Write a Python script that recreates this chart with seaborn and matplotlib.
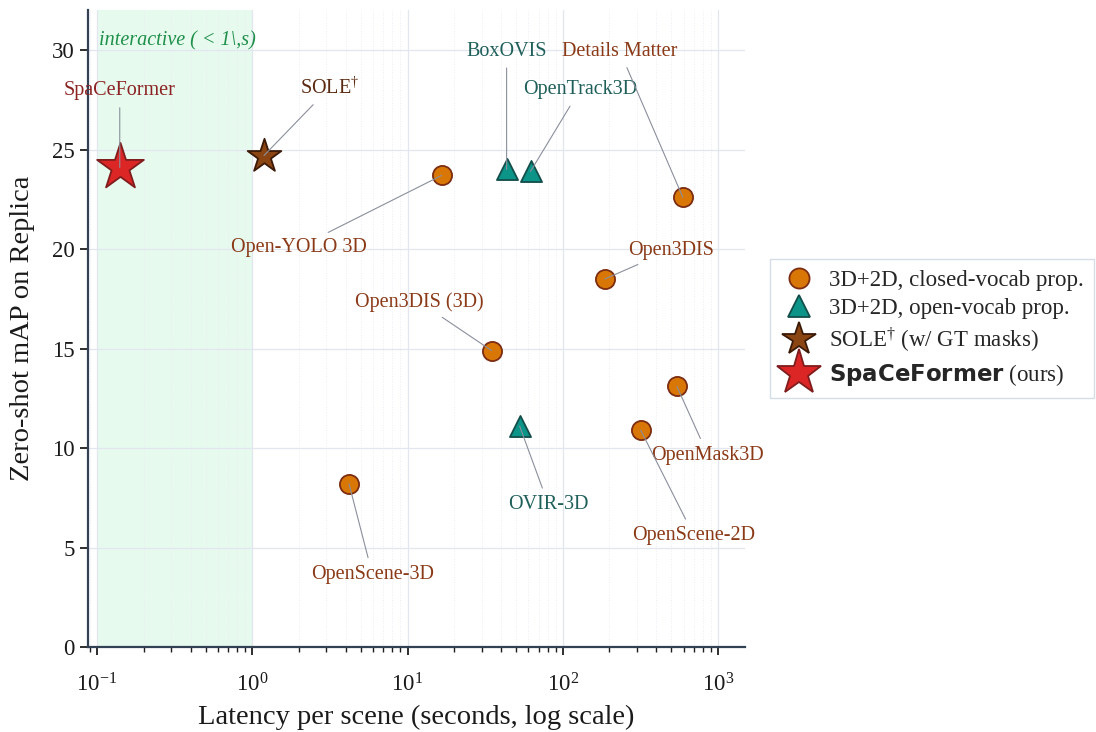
import matplotlib
matplotlib.use("Agg")
import matplotlib.pyplot as plt
from matplotlib.lines import Line2D
from matplotlib.ticker import LogLocator, NullFormatter
import seaborn as sns
import pandas as pd

# ---- data ----
methods = ["SpaCeFormer", "SOLE$^{\\dagger}$", "Open-YOLO 3D", "BoxOVIS", "OpenTrack3D",
           "Details Matter", "Open3DIS", "Open3DIS (3D)", "OpenMask3D", "OpenScene-2D",
           "OVIR-3D", "OpenScene-3D"]
groups = ["ours", "sole", "closed", "open", "open",
          "closed", "closed", "closed", "closed", "closed",
          "open", "closed"]
latency = [0.14, 1.19, 16.6, 43.5, 62.0, 594.0, 187.0, 34.8, 544.0, 318.0, 52.8, 4.2]
mAP = [24.1, 24.7, 23.7, 24.0, 23.9, 22.6, 18.5, 14.9, 13.1, 10.9, 11.1, 8.2]
label_x = [0.14, 3.14, 2.0, 43.5, 129.0, 233.0, 498.0, 11.9, 861.0, 700.0, 81.0, 5.94]
label_y = [27.95, 28.1, 20.1, 29.95, 28.0, 29.95, 19.95, 17.35, 9.65, 5.6, 7.15, 3.65]

df = pd.DataFrame({"method": methods, "group": groups, "latency": latency, "mAP": mAP})

styles = {
    "closed": dict(marker="o", s=190, color="#d97706", edgecolor="#7c2d12", text="#8a3a17"),
    "open": dict(marker="^", s=230, color="#0d9488", edgecolor="#134e4a", text="#1f5f5a"),
    "sole": dict(marker="*", s=650, color="#8b4513", edgecolor="#3b1a08", text="#5a2a10"),
    "ours": dict(marker="*", s=1250, color="#dc2626", edgecolor="#7f1d1d", text="#8b2323"),
}

sns.set_theme(style="white")
plt.rcParams["font.family"] = ["Liberation Serif", "DejaVu Serif"]
plt.rcParams["mathtext.fontset"] = "custom"
plt.rcParams["mathtext.rm"] = "Liberation Serif"
plt.rcParams["mathtext.it"] = "Liberation Serif:italic"
plt.rcParams["mathtext.bf"] = "DejaVu Sans:bold"

fig = plt.figure(figsize=(10.96, 7.32), dpi=100)
ax = fig.add_axes([0.080, 0.116, 0.600, 0.870])

ax.axvspan(0.1, 1.0, color="#e6faee", zorder=0, lw=0)

for g in ["closed", "open", "sole", "ours"]:
    st = styles[g]
    sub = df[df["group"] == g]
    sns.scatterplot(data=sub, x="latency", y="mAP", marker=st["marker"], s=st["s"],
                    color=st["color"], edgecolor=st["edgecolor"], linewidth=1.3,
                    ax=ax, zorder=4, legend=False)

for m, g, x, y, lx, ly in zip(methods, groups, latency, mAP, label_x, label_y):
    ax.annotate(m, xy=(x, y), xytext=(lx, ly), ha="center", va="center",
                fontsize=14.5, color=styles[g]["text"], zorder=5,
                arrowprops=dict(arrowstyle="-", color="#8a8f9c", lw=0.8,
                                shrinkA=3, shrinkB=0))

ax.text(0.103, 30.45, "interactive ( < 1\\,s)", fontstyle="italic", color="#1f8f4a",
        fontsize=14.5, ha="left", va="center", zorder=5)

ax.set_xscale("log")
ax.set_xlim(0.087, 1500)
ax.set_ylim(0, 32)
ax.set_yticks([0, 5, 10, 15, 20, 25, 30])
ax.xaxis.set_minor_locator(LogLocator(base=10, subs=range(2, 10), numticks=20))
ax.xaxis.set_minor_formatter(NullFormatter())

ax.grid(True, which="major", color="#e2e6ef", lw=0.9, zorder=0)
ax.grid(True, which="minor", axis="x", color="#eceef4", lw=0.7, ls=":", zorder=0)
ax.set_axisbelow(True)

for s in ["top", "right"]:
    ax.spines[s].set_visible(False)
for s in ["left", "bottom"]:
    ax.spines[s].set_color("#334155")
    ax.spines[s].set_linewidth(1.6)

ax.tick_params(axis="both", which="major", length=6, width=1.3, color="#1e1e1e",
               labelsize=16.5, labelcolor="#1a1a1a", direction="out", bottom=True, left=True)
ax.tick_params(axis="x", which="major", pad=13)
ax.tick_params(axis="x", which="minor", length=3.5, width=1.0, color="#1e1e1e", bottom=True)

ax.set_xlabel("Latency per scene (seconds, log scale)", fontsize=20.5, color="#1a1a1a",
              labelpad=6)
ax.set_ylabel("Zero-shot mAP on Replica", fontsize=20.5, color="#1a1a1a", labelpad=12)

handles = [
    Line2D([], [], ls="none", marker="o", markersize=14.5, markerfacecolor="#d97706",
           markeredgecolor="#7c2d12", markeredgewidth=1.3),
    Line2D([], [], ls="none", marker="^", markersize=15.5, markerfacecolor="#0d9488",
           markeredgecolor="#134e4a", markeredgewidth=1.3),
    Line2D([], [], ls="none", marker="*", markersize=25, markerfacecolor="#8b4513",
           markeredgecolor="#3b1a08", markeredgewidth=1.3),
    Line2D([], [], ls="none", marker="*", markersize=34, markerfacecolor="#dc2626",
           markeredgecolor="#7f1d1d", markeredgewidth=1.3),
]
labels = ["3D+2D, closed-vocab prop.", "3D+2D, open-vocab prop.",
          "SOLE$^{\\dagger}$ (w/ GT masks)", "$\\mathbf{SpaCeFormer}$ (ours)"]
leg = ax.legend(handles, labels, loc="center left", bbox_to_anchor=(1.037, 0.5),
                fontsize=16.5, frameon=True, fancybox=False, handletextpad=0.45,
                labelspacing=0.3, borderpad=0.45, handlelength=1.7, borderaxespad=0)
leg.get_frame().set_edgecolor("#cbd5e1")
leg.get_frame().set_linewidth(1.0)

fig.savefig("out.png", dpi=100)
